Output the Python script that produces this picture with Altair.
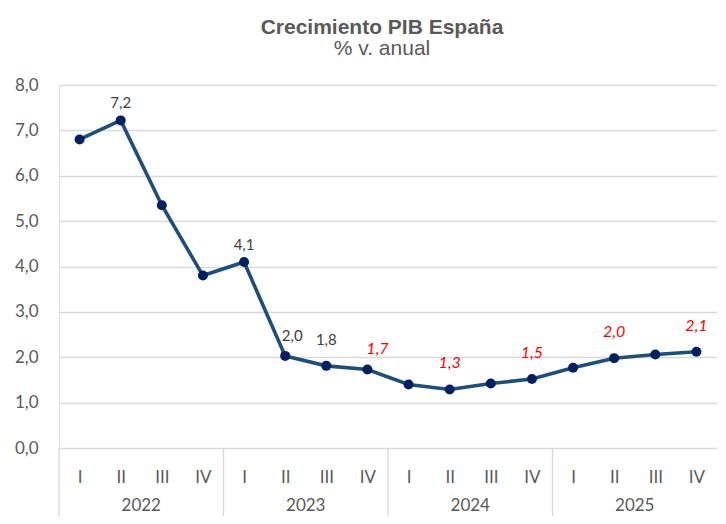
import altair as alt
import pandas as pd

years = ["2022", "2023", "2024", "2025"]
quarters = ["I", "II", "III", "IV"]
values = [6.80, 7.22, 5.35, 3.80, 4.10, 2.03, 1.81, 1.73,
          1.40, 1.29, 1.42, 1.52, 1.77, 1.98, 2.06, 2.12]
# which points carry a label: "obs" (dark) or "fcst" (red italic)
label_kind = ["", "obs", "", "", "obs", "obs", "obs", "fcst",
              "", "fcst", "", "fcst", "", "fcst", "", "fcst"]
y_ticks = [0, 1, 2, 3, 4, 5, 6, 7, 8]

W, H = 658, 363

rows = []
for i, v in enumerate(values):
    rows.append({
        "idx": i,
        "x": i + 0.5,
        "year": years[i // 4],
        "quarter": quarters[i % 4],
        "value": v,
        "kind": label_kind[i],
        "label": f"{v:.1f}".replace(".", ","),
    })
df = pd.DataFrame(rows)

year_df = pd.DataFrame({"year": years, "mid": [4 * k + 2 for k in range(len(years))],
                        "start": [4 * k for k in range(len(years))]})

xscale = alt.Scale(domain=[0, 16], nice=False, zero=False)
yscale = alt.Scale(domain=[0, 8], nice=False)

base = alt.Chart(df)

line = base.mark_line(color="#1F4E79", strokeWidth=3.6).encode(
    x=alt.X("x:Q", scale=xscale,
            axis=alt.Axis(values=[i + 0.5 for i in range(16)],
                          labelExpr="['I','II','III','IV'][floor(datum.value) % 4]",
                          grid=False, ticks=False, domain=False, title=None,
                          labelFont="Lato", labelFontSize=17, labelColor="#595959",
                          labelPadding=21)),
    y=alt.Y("value:Q", scale=yscale,
            axis=alt.Axis(values=y_ticks,
                          labelExpr="replace(format(datum.value, '.1f'), '.', ',')",
                          grid=True, gridColor="#D9D9D9", gridWidth=1.4,
                          ticks=False, domain=False, title=None,
                          labelFont="Lato", labelFontSize=17, labelColor="#595959",
                          labelPadding=21)),
)

points = base.mark_circle(color="#002060", size=100, opacity=1).encode(
    x=alt.X("x:Q", scale=xscale),
    y=alt.Y("value:Q", scale=yscale),
)


def labels(cond, dx, dy, color, style, size):
    return base.transform_filter(cond).mark_text(
        font="Lato", fontSize=size, color=color, fontStyle=style,
        baseline="alphabetic", align="center", dx=dx, dy=dy,
    ).encode(
        x=alt.X("x:Q", scale=xscale),
        y=alt.Y("value:Q", scale=yscale),
        text="label:N",
    )


lab1 = labels("datum.kind == 'obs' && (datum.idx == 1 || datum.idx == 4)", 0, -12, "#404040", "normal", 15)
lab2 = labels("datum.kind == 'obs' && datum.idx == 5", 7, -15, "#404040", "normal", 15)
lab3 = labels("datum.kind == 'obs' && datum.idx == 6", 0, -21, "#404040", "normal", 15)
lab4 = labels("datum.kind == 'fcst' && datum.idx == 7", 10, -16, "#FF0000", "italic", 16)
lab5 = labels("datum.kind == 'fcst' && datum.idx != 7", 0, -21, "#FF0000", "italic", 16)

seps = alt.Chart(year_df).mark_rule(color="#D9D9D9", strokeWidth=1.4).encode(
    x=alt.X("start:Q", scale=xscale),
    y=alt.value(H),
    y2=alt.value(H + 70),
)

year_text = alt.Chart(year_df).mark_text(
    font="Lato", fontSize=17, color="#595959", baseline="alphabetic", align="center"
).encode(
    x=alt.X("mid:Q", scale=xscale),
    y=alt.value(H + 63),
    text="year:N",
)

chart = alt.layer(line, points, lab1, lab2, lab3, lab4, lab5, seps, year_text).properties(
    width=W, height=H,
    autosize=alt.AutoSizeParams(type="none"),
    padding={"left": 51, "top": 77, "right": 0, "bottom": 68},
    title=alt.Title(
        "Crecimiento PIB España",
        subtitle="% v. anual",
        anchor="middle", dx=-6, offset=17,
        font="Liberation Sans", fontSize=21, fontWeight="bold", color="#595959",
        subtitleFont="Liberation Sans", subtitleFontSize=21, subtitleColor="#595959",
        subtitlePadding=0,
    ),
).configure_view(stroke=None).configure(background="white")

chart.save("out.html", embed_options={"renderer": "svg", "actions": False})
